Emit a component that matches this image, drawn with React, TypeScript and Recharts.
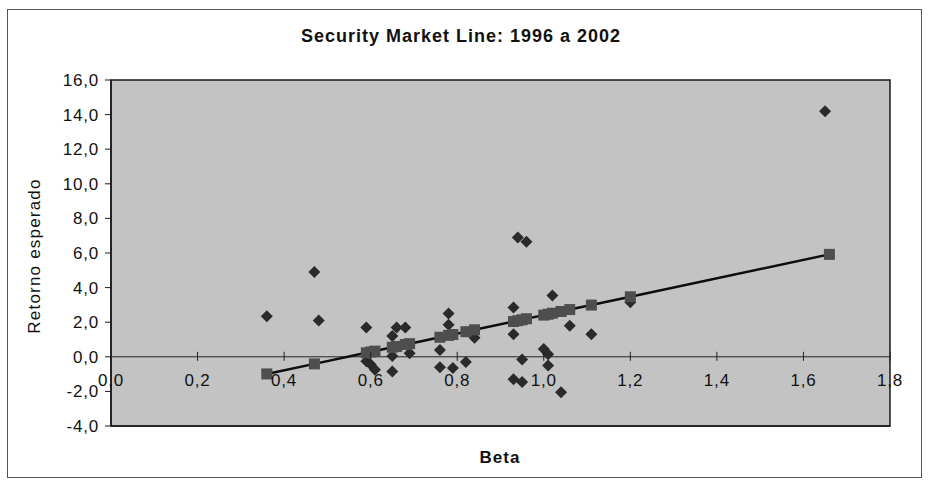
import React from 'react';
import { ScatterChart, Scatter, XAxis, YAxis, ReferenceArea, ReferenceLine } from 'recharts';

// Observed betas and expected returns (diamonds)
const betaObs = [0.36, 0.47, 0.48, 0.59, 0.59, 0.60, 0.61, 0.65, 0.65, 0.65, 0.66, 0.68, 0.69, 0.76, 0.76, 0.78, 0.78, 0.79, 0.82, 0.84, 0.93, 0.93, 0.93, 0.94, 0.95, 0.95, 0.96, 1.00, 1.01, 1.01, 1.02, 1.04, 1.06, 1.11, 1.20, 1.65];
const retObs = [2.35, 4.9, 2.1, 1.7, -0.25, -0.45, -0.75, 1.2, 0.05, -0.85, 1.7, 1.7, 0.2, 0.4, -0.6, 2.5, 1.85, -0.65, -0.3, 1.1, 2.85, 1.3, -1.3, 6.9, -0.15, -1.45, 6.65, 0.45, 0.15, -0.5, 3.55, -2.05, 1.8, 1.3, 3.15, 14.2];

// Fitted security market line points (squares)
const betaFit = [0.36, 0.47, 0.59, 0.60, 0.61, 0.65, 0.66, 0.68, 0.69, 0.76, 0.78, 0.79, 0.82, 0.84, 0.93, 0.94, 0.95, 0.96, 1.00, 1.01, 1.02, 1.04, 1.06, 1.11, 1.20, 1.66];
const retFit = [-0.99, -0.41, 0.23, 0.28, 0.33, 0.55, 0.60, 0.71, 0.76, 1.13, 1.24, 1.29, 1.45, 1.56, 2.04, 2.09, 2.14, 2.20, 2.41, 2.46, 2.52, 2.62, 2.73, 2.99, 3.47, 5.92];

const xTicks = [0, 0.2, 0.4, 0.6, 0.8, 1.0, 1.2, 1.4, 1.6, 1.8];
const yTicks = [-4, -2, 0, 2, 4, 6, 8, 10, 12, 14, 16];

const title = 'Security Market Line: 1996 a 2002';
const xLabel = 'Beta';
const yLabel = 'Retorno esperado';
const eqLine1 = 'y = 5,0674x - 2,9447';
const eqLine2 = 'R² = 0,182';

const obsData = betaObs.map((x, i) => ({ x, y: retObs[i] }));
const fitData = betaFit.map((x, i) => ({ x, y: retFit[i] }));

const W = 928;
const H = 481;
const PLOT_LEFT = 111;
const PLOT_RIGHT = 890;
const PLOT_TOP = 80;
const PLOT_BOTTOM = 426;
const Y_AXIS_W = 60;
const X_AXIS_H = 30;
const Y_MIN = -4;
const Y_MAX = 16;
const Y0 = PLOT_TOP + ((Y_MAX - 0) / (Y_MAX - Y_MIN)) * (PLOT_BOTTOM - PLOT_TOP);

const FONT = '"Liberation Sans", Arial, sans-serif';
const fmt = (v: number) => v.toFixed(1).replace('.', ',');

const Diamond = (props: any) => {
  const { cx, cy } = props;
  const r = 6;
  return (
    <polygon
      points={`${cx},${cy - r} ${cx + r},${cy} ${cx},${cy + r} ${cx - r},${cy}`}
      fill="#2a2a2a"
    />
  );
};

const Square = (props: any) => {
  const { cx, cy } = props;
  const r = 5.5;
  return <rect x={cx - r} y={cy - r} width={2 * r} height={2 * r} fill="#4e4e4e" />;
};

const XTick = (props: any) => {
  const { x, payload } = props;
  return (
    <g>
      <line x1={x} x2={x} y1={Y0 - 5} y2={Y0 + 4} stroke="#222" strokeWidth={1} />
      <text
        x={x}
        y={Y0 + 29}
        textAnchor="middle"
        fontSize={17}
        fontFamily={FONT}
        letterSpacing={0.8}
        fill="#111"
      >
        {fmt(payload.value)}
      </text>
    </g>
  );
};

export default function App() {
  return (
    <div style={{ position: 'absolute', left: 0, top: 0, width: W, height: H, background: '#fff' }}>
      <div
        style={{
          position: 'absolute',
          left: 7,
          top: 9,
          width: 913,
          height: 467,
          border: '1px solid #555',
        }}
      />
      <div style={{ position: 'absolute', left: 0, top: 0 }}>
        <ScatterChart
          width={W}
          height={H}
          margin={{
            top: PLOT_TOP,
            right: W - PLOT_RIGHT,
            bottom: H - PLOT_BOTTOM - X_AXIS_H,
            left: PLOT_LEFT - Y_AXIS_W,
          }}
        >
          <XAxis
            type="number"
            dataKey="x"
            domain={[0, 1.8]}
            ticks={xTicks}
            interval={0}
            allowDataOverflow
            height={X_AXIS_H}
            tickLine={false}
            axisLine={{ stroke: '#1a1a1a', strokeWidth: 1.5 }}
            tick={<XTick />}
          />
          <YAxis
            type="number"
            dataKey="y"
            domain={[Y_MIN, Y_MAX]}
            ticks={yTicks}
            interval={0}
            allowDataOverflow
            width={Y_AXIS_W}
            tickSize={6}
            tickMargin={6}
            tickFormatter={fmt}
            axisLine={{ stroke: '#1a1a1a', strokeWidth: 1.5 }}
            tickLine={{ stroke: '#1a1a1a' }}
            tick={{ fontSize: 17, fontFamily: FONT, fill: '#111', letterSpacing: 0.8 }}
          />
          <ReferenceArea
            x1={0}
            x2={1.8}
            y1={Y_MIN}
            y2={Y_MAX}
            fill="#c3c3c3"
            fillOpacity={1}
            stroke="#1a1a1a"
            strokeWidth={1.5}
            ifOverflow="visible"
          />
          <ReferenceLine y={0} stroke="#222" strokeWidth={1} />
          <Scatter
            name="obs"
            data={obsData}
            shape={Diamond}
            isAnimationActive={false}
          />
          <Scatter
            name="fit"
            data={fitData}
            shape={Square}
            line={{ stroke: '#0d0d0d', strokeWidth: 2.5 }}
            lineType="joint"
            isAnimationActive={false}
          />
          <text
            x={461}
            y={42}
            textAnchor="middle"
            fontSize={18}
            fontWeight="bold"
            fontFamily={FONT}
            letterSpacing={1}
            fill="#111"
          >
            {title}
          </text>
          <text
            x={500}
            y={463}
            textAnchor="middle"
            fontSize={17}
            fontWeight="bold"
            fontFamily={FONT}
            letterSpacing={1}
            fill="#111"
          >
            {xLabel}
          </text>
          <text
            x={0}
            y={0}
            transform={`translate(40, 256) rotate(-90)`}
            textAnchor="middle"
            fontSize={17}
            fontFamily={FONT}
            letterSpacing={1.2}
            fill="#111"
          >
            {yLabel}
          </text>
          <text
            x={746}
            y={230}
            textAnchor="middle"
            fontSize={17}
            fontFamily={FONT}
            letterSpacing={1.2}
            fill="#111"
          >
            {eqLine1}
          </text>
          <text
            x={746}
            y={256}
            textAnchor="middle"
            fontSize={17}
            fontFamily={FONT}
            letterSpacing={1.2}
            fill="#111"
          >
            {eqLine2}
          </text>
        </ScatterChart>
      </div>
    </div>
  );
}
